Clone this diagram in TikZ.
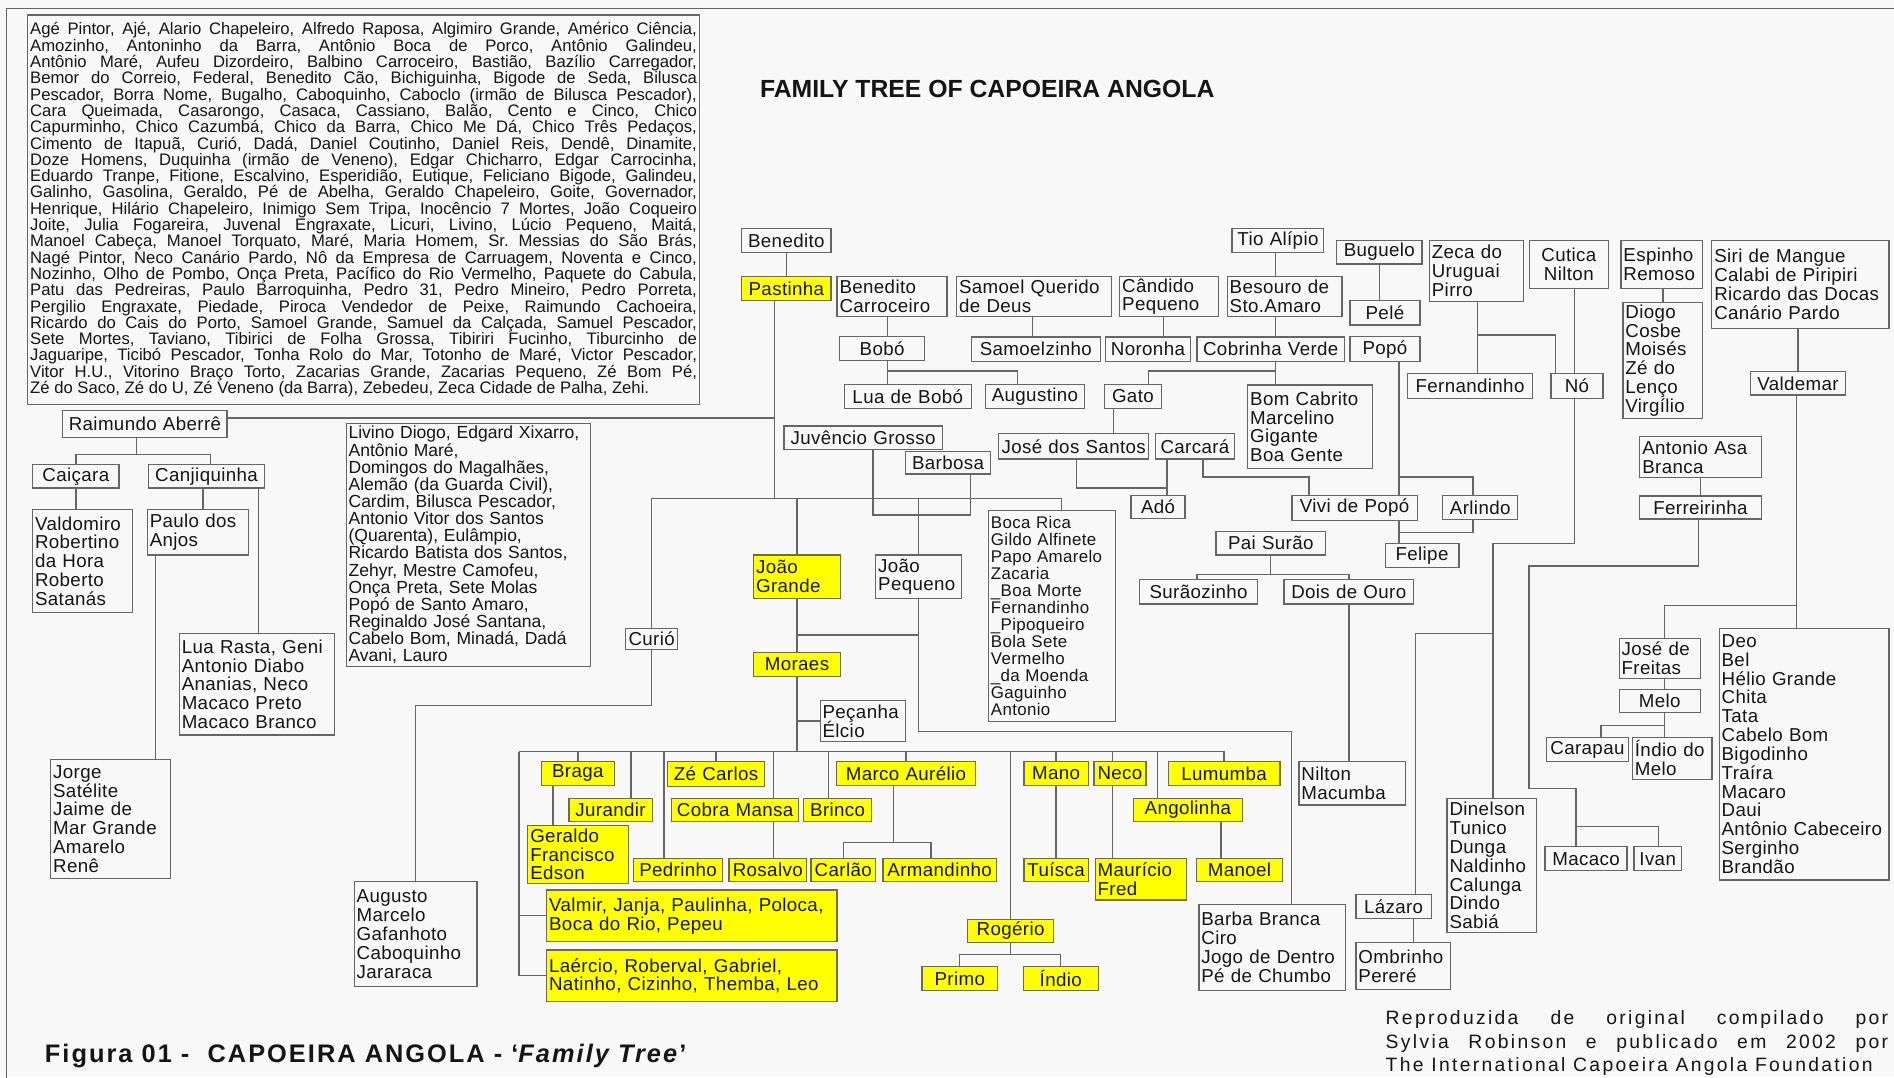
\documentclass[tikz,border=0pt]{standalone}
\usepackage{fontspec}
\setmainfont{Liberation Sans}
\newfontfamily\spacedfont[LetterSpace=12]{Liberation Sans}
\newfontfamily\capfont[LetterSpace=8]{Liberation Sans}
\newfontfamily\nodefont[LetterSpace=2]{Liberation Sans}
\definecolor{bgc}{HTML}{F8F8F8}
\definecolor{lnc}{HTML}{666666}
\definecolor{txc}{HTML}{151515}
\definecolor{ylw}{HTML}{FFFF00}
\definecolor{ybd}{HTML}{6E6E3C}
\pgfdeclarelayer{bgfill}\pgfdeclarelayer{lines}\pgfsetlayers{bgfill,lines,main}
\newcommand\nfont{\nodefont\fontsize{15.5}{15.6}\selectfont\lineskiplimit=-50pt\relax}
\newcommand\tfont{\fontsize{13.8}{13.5}\selectfont\lineskiplimit=-50pt\tolerance=10000\hyphenpenalty=10000\frenchspacing\relax}
\newcommand\lfont{\fontsize{14.5}{14.2}\selectfont\lineskiplimit=-50pt\relax}
\newcommand\bfont{\nodefont\fontsize{14}{14.05}\selectfont\lineskiplimit=-50pt\relax}
\newcommand\mybox[7][]{%
  \pgfmathsetmacro\bxw{#5-#3}%
  \pgfmathsetmacro\bxh{#6-#4}%
  \pgfmathsetmacro\bxcx{(#3+#5)/2}%
  \pgfmathsetmacro\bxcy{(#4+#6)/2}%
  \pgfmathsetmacro\bxtw{#5-#3-4}%
  \node[box,minimum width=\bxw pt,minimum height=\bxh pt,text width=\bxtw pt,#1] (#2) at (\bxcx,\bxcy) {#7};}
\tikzset{
  box/.style={draw=lnc, line width=1pt, fill=bgc, inner xsep=2pt, inner ysep=0pt, align=center, font=\nfont, text=txc},
  l/.style={align=left},
  yb/.style={fill=ylw, draw=ybd},
  ln/.style={draw=lnc, line width=1.1pt}
}
\begin{document}
\begin{tikzpicture}[x=1pt,y=-1pt]
\useasboundingbox (0,0) rectangle (1568,892);
\begin{pgfonlayer}{bgfill}
\fill[bgc] (0,0) rectangle (1568,892);
\end{pgfonlayer}

% ---------- texts ----------
\mybox[font=\tfont,align=justify]{names}{23}{12.4}{579}{335}{Agé Pintor, Ajé, Alario Chapeleiro, Alfredo Raposa, Algimiro Grande, Américo Ciência,\linebreak
Amozinho, Antoninho da Barra, Antônio Boca de Porco, Antônio Galindeu,\linebreak
Antônio Maré, Aufeu Dizordeiro, Balbino Carroceiro, Bastião, Bazílio Carregador,\linebreak
Bemor do Correio, Federal, Benedito Cão, Bichiguinha, Bigode de Seda, Bilusca\linebreak
Pescador, Borra Nome, Bugalho, Caboquinho, Caboclo (irmão de Bilusca Pescador),\linebreak
Cara Queimada, Casarongo, Casaca, Cassiano, Balão, Cento e Cinco, Chico\linebreak
Capurminho, Chico Cazumbá, Chico da Barra, Chico Me Dá, Chico Três Pedaços,\linebreak
Cimento de Itapuã, Curió, Dadá, Daniel Coutinho, Daniel Reis, Dendê, Dinamite,\linebreak
Doze Homens, Duquinha (irmão de Veneno), Edgar Chicharro, Edgar Carrocinha,\linebreak
Eduardo Tranpe, Fitione, Escalvino, Esperidião, Eutique, Feliciano Bigode, Galindeu,\linebreak
Galinho, Gasolina, Geraldo, Pé de Abelha, Geraldo Chapeleiro, Goite, Governador,\linebreak
Henrique, Hilário Chapeleiro, Inimigo Sem Tripa, Inocêncio 7 Mortes, João Coqueiro\linebreak
Joite, Julia Fogareira, Juvenal Engraxate, Licuri, Livino, Lúcio Pequeno, Maitá,\linebreak
Manoel Cabeça, Manoel Torquato, Maré, Maria Homem, Sr. Messias do São Brás,\linebreak
Nagé Pintor, Neco Canário Pardo, Nô da Empresa de Carruagem, Noventa e Cinco,\linebreak
Nozinho, Olho de Pombo, Onça Preta, Pacífico do Rio Vermelho, Paquete do Cabula,\linebreak
Patu das Pedreiras, Paulo Barroquinha, Pedro 31, Pedro Mineiro, Pedro Porreta,\linebreak
Pergilio Engraxate, Piedade, Piroca Vendedor de Peixe, Raimundo Cachoeira,\linebreak
Ricardo do Cais do Porto, Samoel Grande, Samuel da Calçada, Samuel Pescador,\linebreak
Sete Mortes, Taviano, Tibirici de Folha Grossa, Tibiriri Fucinho, Tiburcinho de\linebreak
Jaguaripe, Ticibó Pescador, Tonha Rolo do Mar, Totonho de Maré, Victor Pescador,\linebreak
Vitor H.U., Vitorino Braço Torto, Zacarias Grande, Zacarias Pequeno, Zé Bom Pé,\linebreak
Zé do Saco, Zé do U, Zé Veneno (da Barra), Zebedeu, Zeca Cidade de Palha, Zehi.}

\node[anchor=base west, inner sep=0pt, text=txc, font=\bfseries\fontsize{20.5}{20.5}\selectfont] (title) at (629,80.8) {FAMILY TREE OF CAPOEIRA ANGOLA};
\node[anchor=base west, inner sep=0pt, text=txc, font=\capfont\bfseries\fontsize{21}{21}\selectfont] (caption) at (37,880) {Figura 01 -\ \ CAPOEIRA ANGOLA - ‘\textit{Family Tree}’};
\node[anchor=base west, inner sep=0pt, text=txc, text width=416pt, align=justify, font=\spacedfont\fontsize{16}{19.3}\selectfont] (repro) at (1147,848.5) {\parfillskip=0pt Reproduzida de original compilado por\linebreak Sylvia Robinson e publicado em 2002 por\linebreak The International Capoeira Angola Foundation};

% ---------- left ----------
\mybox{raim}{52}{340}{188}{362}{Raimundo Aberrê}
\mybox{caicara}{27}{384.6}{98.5}{404}{Caiçara}
\mybox{canji}{123}{384.6}{219}{404}{Canjiquinha}
\mybox[l]{valdo}{27}{422}{110}{507}{Valdomiro\\Robertino\\da Hora\\Roberto\\Satanás}
\mybox[l]{paulo}{122}{421.6}{206}{459.5}{Paulo dos\\Anjos}
\mybox[l]{luarasta}{148.5}{524.5}{277}{608.4}{Lua Rasta, Geni\\Antonio Diabo\\Ananias, Neco\\Macaco Preto\\Macaco Branco}
\mybox[l]{jorge}{42}{628.5}{141}{727.6}{Jorge\\Satélite\\Jaime de\\Mar Grande\\Amarelo\\Renê}
\mybox[l,font=\lfont]{livino}{286.6}{350.6}{488.6}{552}{Livino Diogo, Edgard Xixarro,\\Antônio Maré,\\Domingos do Magalhães,\\Alemão (da Guarda Civil),\\Cardim, Bilusca Pescador,\\Antonio Vitor dos Santos\\(Quarenta), Eulâmpio,\\Ricardo Batista dos Santos,\\Zehyr, Mestre Camofeu,\\Onça Preta, Sete Molas\\Popó de Santo Amaro,\\Reginaldo José Santana,\\Cabelo Bom, Minadá, Dadá\\Avani, Lauro}
\mybox{curio}{518}{520}{561}{538}{Curió}
\mybox[l]{augusto}{293.3}{730}{394.9}{817}{Augusto\\Marcelo\\Gafanhoto\\Caboquinho\\Jararaca}

% ---------- top ----------
\mybox{benedito}{614}{189}{688}{209}{Benedito}
\mybox[yb]{pastinha}{614}{229}{688}{249}{Pastinha}
\mybox[l]{bencar}{693}{229}{784}{262}{Benedito\\Carroceiro}
\mybox[l]{samoel}{792}{229}{920}{262}{Samoel Querido\\de Deus}
\mybox[l]{candido}{927}{229}{1009}{262}{Cândido\\Pequeno}
\mybox[l]{besouro}{1016}{229}{1111}{262}{Besouro de\\Sto.Amaro}
\mybox{tio}{1020}{189}{1096}{209}{Tio Alípio}
\mybox{bobo}{695}{278.7}{765.5}{298.6}{Bobó}
\mybox{samoelz}{804}{279}{911}{299}{Samoelzinho}
\mybox{noronha}{915}{279}{985.7}{299}{Noronha}
\mybox{cobrinha}{991}{279}{1113}{299}{Cobrinha Verde}
\mybox{lua}{699}{318}{804}{338}{Lua de Bobó}
\mybox{augustino}{816}{318}{897.6}{338}{Augustino}
\mybox{gato}{914.4}{318}{961.4}{338}{Gato}
\mybox[l]{bomcab}{1033}{318.7}{1136}{388}{Bom Cabrito\\Marcelino\\Gigante\\Boa Gente}
\mybox{juvencio}{649}{352.7}{780}{371.8}{Juvêncio Grosso}
\mybox{barbosa}{749.7}{374}{820}{392.4}{Barbosa}
\mybox{jose}{826.7}{359}{951}{380}{José dos Santos}
\mybox{carcara}{956.5}{359}{1022}{380}{Carcará}
\mybox{ado}{936.4}{410}{981}{429}{Adó}
\mybox{vivi}{1069.6}{410}{1173.4}{431}{Vivi de Popó}
\mybox{arlindo}{1194.4}{410}{1256.5}{430}{Arlindo}
\mybox{felipe}{1146.7}{449.8}{1207.8}{469.6}{Felipe}
\mybox{paisurao}{1006.6}{440}{1097.5}{459.5}{Pai Surão}
\mybox{suraoz}{943.5}{480}{1041}{500}{Surãozinho}
\mybox{dois}{1063}{480}{1170.2}{500}{Dois de Ouro}
\mybox{buguelo}{1106.6}{199}{1177.2}{218.5}{Buguelo}
\mybox{pele}{1117.6}{249}{1175.5}{269}{Pelé}
\mybox{popo}{1117.6}{278.7}{1175.5}{299.4}{Popó}
\mybox[l]{zeca}{1183.4}{199}{1261.2}{249.7}{Zeca do\\Uruguai\\Pirro}
\mybox{fernandinho}{1165}{309}{1269}{329.7}{Fernandinho}
\mybox{cutica}{1265.9}{199}{1331.7}{238.7}{Cutica\\Nilton}
\mybox{no}{1284}{309}{1327}{329.7}{Nó}
\mybox[l]{espinho}{1342}{199}{1409.2}{238.7}{Espinho\\Remoso}
\mybox[l]{diogo}{1343.6}{250.6}{1409.2}{346.3}{Diogo\\Cosbe\\Moisés\\Zé do\\Lenço\\Virgílio}
\mybox[l]{siri}{1417.2}{199}{1563.8}{271.8}{Siri de Mangue\\Calabi de Piripiri\\Ricardo das Docas\\Canário Pardo}
\mybox{valdemar}{1449.3}{307.7}{1527.7}{327}{Valdemar}
\mybox[l]{asabranca}{1357.6}{361.5}{1458}{395.4}{Antonio Asa\\Branca}
\mybox{ferreirinha}{1357.6}{410.6}{1458}{429.6}{Ferreirinha}
\mybox[l]{josefreitas}{1340.5}{528.4}{1407.6}{561.5}{José de\\Freitas}
\mybox{melo}{1340.5}{570.6}{1407.6}{590}{Melo}
\mybox{carapau}{1280}{610.4}{1348.4}{630.5}{Carapau}
\mybox[l]{indiomelo}{1351.5}{610.4}{1417.3}{645}{Índio do\\Melo}
\mybox[l]{deo}{1423.3}{520}{1563.8}{728.5}{Deo\\Bel\\Hélio Grande\\Chita\\Tata\\Cabelo Bom\\Bigodinho\\Traíra\\Macaro\\Daui\\Antônio Cabeceiro\\Serginho\\Brandão}
\mybox{macaco}{1279}{701}{1347}{720.8}{Macaco}
\mybox{ivan}{1352.7}{701}{1392}{720.8}{Ivan}
\mybox[l]{dinelson}{1198}{661}{1272}{772}{Dinelson\\Tunico\\Dunga\\Naldinho\\Calunga\\Dindo\\Sabiá}
\mybox{lazaro}{1122.6}{740.4}{1184.8}{760.2}{Lázaro}
\mybox[l]{ombrinho}{1122.6}{780.4}{1201}{819}{Ombrinho\\Pereré}
\mybox[l]{barba}{992.6}{748.5}{1114}{820}{Barba Branca\\Ciro\\Jogo de Dentro\\Pé de Chumbo}
\mybox[l]{nilton}{1075.4}{630.5}{1163.6}{666.4}{Nilton\\Macumba}

% ---------- middle ----------
\mybox[l,font=\bfont]{bocarica}{818.4}{422.8}{923.2}{597.4}{Boca Rica\\Gildo Alfinete\\Papo Amarelo\\Zacaria\\\_Boa Morte\\Fernandinho\\\_Pipoqueiro\\Bola Sete\\Vermelho\\\_da Moenda\\Gaguinho\\Antonio}
\mybox[l,yb]{joaogrande}{624}{459.5}{695.6}{495.3}{João\\Grande}
\mybox[l]{joaopequeno}{725}{459.5}{796}{495.3}{João\\Pequeno}
\mybox[yb]{moraes}{624}{540}{695.6}{560}{Moraes}
\mybox[l]{pecanha}{679}{580}{749.7}{614}{Peçanha\\Élcio}
\mybox[yb]{braga}{448}{630.5}{508.8}{650}{Braga}
\mybox[yb]{zecarlos}{552.6}{630.5}{633}{651}{Zé Carlos}
\mybox[yb]{marco}{692.4}{630.5}{807.6}{650}{Marco Aurélio}
\mybox[yb]{mano}{847.7}{630.5}{901}{650}{Mano}
\mybox[yb]{neco}{905.6}{630.5}{948.7}{650}{Neco}
\mybox[yb]{lumumba}{967.2}{630.5}{1059.6}{650}{Lumumba}
\mybox[yb]{jurandir}{471}{660.9}{540}{680.2}{Jurandir}
\mybox[yb]{cobramansa}{556}{660.9}{661.3}{680.2}{Cobra Mansa}
\mybox[yb]{brinco}{665.4}{660.9}{721.5}{680.2}{Brinco}
\mybox[yb]{angolinha}{938.4}{660.9}{1028.4}{680.2}{Angolinha}
\mybox[l,yb]{geraldo}{437}{683.5}{520}{731.2}{Geraldo\\Francisco\\Edson}
\mybox[yb]{pedrinho}{524.4}{710.5}{598.3}{729.9}{Pedrinho}
\mybox[yb]{rosalvo}{603.5}{710.5}{667.7}{729.9}{Rosalvo}
\mybox[yb]{carlao}{671.4}{710.5}{724.8}{729.9}{Carlão}
\mybox[yb]{armandinho}{731}{710.5}{824.8}{730}{Armandinho}
\mybox[yb]{tuisca}{847.7}{710.5}{901}{730}{Tuísca}
\mybox[l,yb]{mauricio}{906.7}{710.5}{982}{745}{Maurício\\Fred}
\mybox[yb]{manoel}{990.8}{710.5}{1061.5}{730}{Manoel}
\mybox[l,yb]{valmir}{452.6}{736.8}{693}{779.5}{Valmir, Janja, Paulinha, Poloca,\\Boca do Rio, Pepeu}
\mybox[l,yb]{laercio}{452.6}{786.4}{693}{829.2}{Laércio, Roberval, Gabriel,\\Natinho, Cizinho, Themba, Leo}
\mybox[yb]{rogerio}{801}{761}{872.3}{780.4}{Rogério}
\mybox[yb]{primo}{763.3}{800.2}{825.8}{820}{Primo}
\mybox[yb]{indio}{847}{800.2}{909.3}{820}{Índio}

% ---------- connectors ----------
\begin{pgfonlayer}{lines}
\draw[lnc, line width=1pt] (5.5,900) -- (5.5,7) -- (1580,7);
\coordinate (tr1) at (641,412.5);
\coordinate (bb) at (879,412.5);
\coordinate (lb) at (0,622.2);
\draw[ln] (benedito.south) -- (pastinha.north);
\draw[ln] (pastinha.south -| tr1) -- (tr1);
\draw[ln] (raim.east |- 0,346) -- (641,346);
\draw[ln] (curio.north) |- (bb) -- (bocarica.north -| bb);
\draw[ln] (joaogrande.north) -- (joaogrande.north |- tr1);
\draw[ln] (joaopequeno.north) -- (joaopequeno.north |- tr1);
\draw[ln] (juvencio.south -| 722.7,0) -- (722.7,426.4) -- (803.6,426.4) -- (barbosa.south -| 803.6,0);
\draw[ln] (curio.south) -- (curio.south |- 0,584) -| (augusto.north);
\draw[ln] (joaogrande.south) -- (moraes.north);
\draw[ln] (joaopequeno.south) -- (joaopequeno.south |- 0,605.7) -| (barba.north -| 1069,0);
\draw[ln] (joaopequeno.south |- 0,525.7) -- (moraes.north |- 0,525.7);
\draw[ln] (moraes.south) -- (moraes.south |- lb);
\draw[ln] (pecanha.west) -- (pecanha.west -| moraes.south);
\draw[ln] (429.6,622.2) -- (lumumba.north |- lb) -- (lumumba.north);
\draw[ln] (laercio.west) -| (429.6,622.2);
\draw[ln] (valmir.west) -- (valmir.west -| 429.6,0);
\draw[ln] (braga.north) -- (braga.north |- lb);
\draw[ln] (braga.south -| 457.9,0) -- (geraldo.north -| 457.9,0);
\draw[ln] (jurandir.north -| 522.4,0) -- (522.4,622.2);
\draw[ln] (pedrinho.north -| 549.8,0) -- (549.8,622.2);
\draw[ln] (zecarlos.north) -- (zecarlos.north |- lb);
\draw[ln] (cobramansa.north -| 640.6,0) -- (640.6,622.2);
\draw[ln] (cobramansa.south -| 640.6,0) -- (rosalvo.north -| 640.6,0);
\draw[ln] (brinco.north -| 686,0) -- (686,622.2);
\draw[ln] (marco.north) -- (marco.north |- lb);
\draw[ln] (marco.south -| 739.7,0) -- (739.7,697.3);
\draw[ln] (carlao.north) |- (770.7,697.3) -- (armandinho.north -| 770.7,0);
\draw[ln] (rogerio.north) -- (rogerio.north |- lb);
\draw[ln] (mano.north) -- (mano.north |- lb);
\draw[ln] (mano.south) -- (tuisca.north);
\draw[ln] (neco.north -| 921,0) -- (921,622.2);
\draw[ln] (neco.south -| 921,0) -- (mauricio.north -| 921,0);
\draw[ln] (angolinha.north -| 958,0) -- (958,622.2);
\draw[ln] (angolinha.south -| 1010.8,0) -- (manoel.north -| 1010.8,0);
\draw[ln] (rogerio.south) -- (rogerio.south |- 0,790);
\draw[ln] (primo.north) |- (indio.north |- 0,790) -- (indio.north);
% left
\draw[ln] (raim.south -| 113,0) -- (113,376);
\draw[ln] (caicara.north -| 63,0) |- (174.4,376) -- (canji.north -| 174.4,0);
\draw[ln] (caicara.south -| 63,0) -- (valdo.north -| 63,0);
\draw[ln] (canji.south -| 168,0) -- (paulo.north -| 168,0);
\draw[ln] (canji.south -| 214,0) -- (luarasta.north -| 214,0);
\draw[ln] (paulo.south -| 129,0) -- (jorge.north -| 129,0);
% top
\draw[ln] (tio.south -| 1056,0) -- (besouro.north -| 1056,0);
\draw[ln] (besouro.south -| 1056,0) -- (cobrinha.north -| 1056,0);
\draw[ln] (bencar.south -| 735,0) -- (bobo.north -| 735,0);
\draw[ln] (bobo.south -| 735,0) -- (lua.north -| 735,0);
\draw[ln] (735,307) -| (augustino.north -| 842.5,0);
\draw[ln] (samoel.south -| 855,0) -- (samoelz.north -| 855,0);
\draw[ln] (candido.south -| 963,0) -- (noronha.north -| 963,0);
\draw[ln] (cobrinha.south -| 1056,0) -- (bomcab.north -| 1056,0);
\draw[ln] (1056,307) -| (gato.north -| 951,0);
\draw[ln] (gato.south -| 922,0) -- (jose.north -| 922,0);
\draw[ln] (jose.south -| 891,0) |- (966,404);
\draw[ln] (carcara.south -| 966,0) -- (ado.north -| 966,0);
\draw[ln] (carcara.south -| 996,0) |- (1083.8,395) -- (vivi.north -| 1083.8,0);
\draw[ln] (buguelo.south -| 1142,0) -- (pele.north -| 1142,0);
\draw[ln] (popo.south -| 1158.3,0) -- (vivi.north -| 1158.3,0);
\draw[ln] (1158.3,395) -| (arlindo.north -| 1219.4,0);
\draw[ln] (vivi.south -| 1158.3,0) -- (felipe.north -| 1158.3,0);
\draw[ln] (arlindo.south -| 1219.4,0) |- (1158.3,440.7);
\draw[ln] (zeca.south -| 1223,0) -- (fernandinho.north -| 1223,0);
\draw[ln] (1223,277.3) -| (no.north -| 1287.8,0);
\draw[ln] (cutica.south -| 1303.5,0) -- (no.north -| 1303.5,0);
\draw[ln] (no.south -| 1303.5,0) |- (1236,449.8) -- (dinelson.north -| 1236,0);
\draw[ln] (1236,524.3) -| (lazaro.north -| 1171.8,0);
\draw[ln] (lazaro.south -| 1170,0) -- (ombrinho.north -| 1170,0);
\draw[ln] (asabranca.south -| 1407.6,0) -- (ferreirinha.north -| 1407.6,0);
\draw[ln] (ferreirinha.south -| 1406.4,0) |- (1265.9,468.6) |- (1304.6,652.6) -- (macaco.north -| 1304.6,0);
\draw[ln] (1304.6,684.4) -| (ivan.north -| 1372.8,0);
\draw[ln] (espinho.south -| 1376.7,0) -- (diogo.north -| 1376.7,0);
\draw[ln] (siri.south -| 1488.4,0) -- (valdemar.north -| 1488.4,0);
\draw[ln] (valdemar.south -| 1487,0) -- (deo.north -| 1487,0);
\draw[ln] (1487,501.4) -| (josefreitas.north -| 1377.8,0);
\draw[ln] (josefreitas.south -| 1377.8,0) -- (melo.north -| 1377.8,0);
\draw[ln] (melo.south -| 1377.8,0) -- (indiomelo.north -| 1377.8,0);
\draw[ln] (1377.8,600.7) -| (carapau.north -| 1325.4,0);
\draw[ln] (paisurao.south -| 1051.8,0) -- (1051.8,475.4);
\draw[ln] (suraoz.north -| 991,0) |- (1116.7,475.4) -- (dois.north -| 1116.7,0);
\draw[ln] (dois.south -| 1116.7,0) -- (nilton.north -| 1116.7,0);
\end{pgfonlayer}
\end{tikzpicture}
\end{document}
